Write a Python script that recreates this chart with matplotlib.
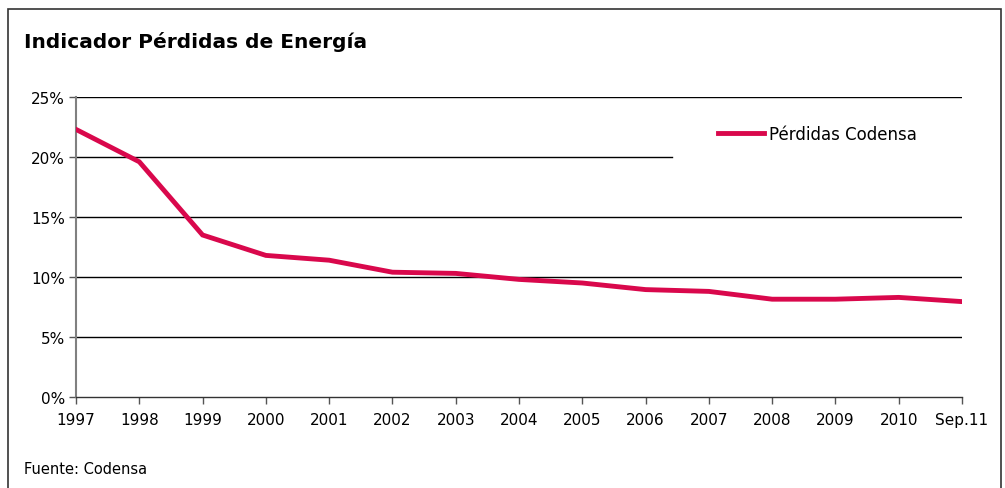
import matplotlib
matplotlib.use("Agg")
from matplotlib import pyplot as plt
from matplotlib.patches import Rectangle

years = ['1997', '1998', '1999', '2000', '2001', '2002', '2003', '2004',
         '2005', '2006', '2007', '2008', '2009', '2010', 'Sep.11']
perdidas = [22.3, 19.6, 13.5, 11.8, 11.4, 10.4, 10.3, 9.8,
            9.5, 8.95, 8.8, 8.15, 8.15, 8.3, 7.95]
y_ticks = [0, 5, 10, 15, 20, 25]

plt.rcParams['font.family'] = ['DejaVu Sans']

fig = plt.figure(figsize=(10.05, 4.89), dpi=100)
ax = fig.add_axes([76 / 1005, 1 - 398 / 489, (962 - 76) / 1005, 300 / 489])

x = list(range(len(years)))
ax.plot(x, perdidas, color='#D9084C', lw=3.5, solid_joinstyle='miter',
        label='Pérdidas Codensa', zorder=3)

# gridlines (the 20% one is hidden behind the legend on the right)
for t in y_ticks[1:]:
    xmax = 0.673 if t == 20 else 1
    ax.axhline(t, xmin=0, xmax=xmax, color='black', lw=1, zorder=1)

ax.set_xlim(0, len(years) - 1)
ax.set_ylim(0, 25)
ax.set_xticks(x)
ax.set_xticklabels(years, fontsize=11)
ax.set_yticks(y_ticks)
ax.set_yticklabels([f'{t}%' for t in y_ticks], fontsize=11)
ax.tick_params(axis='both', direction='out', length=5, width=1, color='#555555', pad=3)
ax.tick_params(axis='x', pad=6)

for s in ['top', 'right']:
    ax.spines[s].set_visible(False)
ax.spines['left'].set_color('#808080')
ax.spines['left'].set_linewidth(1.5)
ax.spines['bottom'].set_color('#333333')
ax.spines['bottom'].set_linewidth(1)

ax.legend(loc='center left', bbox_to_anchor=((718 - 76) / 886, (398 - 135) / 300),
          frameon=False, fontsize=12, handlelength=2.75, handletextpad=0.3,
          borderpad=0, borderaxespad=0)

fig.text(24 / 1005, 1 - 42 / 489, 'Indicador Pérdidas de Energía', fontsize=14.5,
         fontweight='bold', va='center', ha='left')
fig.text(24 / 1005, 1 - 470 / 489, 'Fuente: Codensa', fontsize=10.5,
         va='center', ha='left')

fig.patches.append(Rectangle((8 / 1005, -0.01), (1001 - 8) / 1005, 1 - 10 / 489 + 0.01,
                             transform=fig.transFigure, fill=False,
                             edgecolor='#333333', lw=1.2))

fig.savefig('out.png', dpi=100)
